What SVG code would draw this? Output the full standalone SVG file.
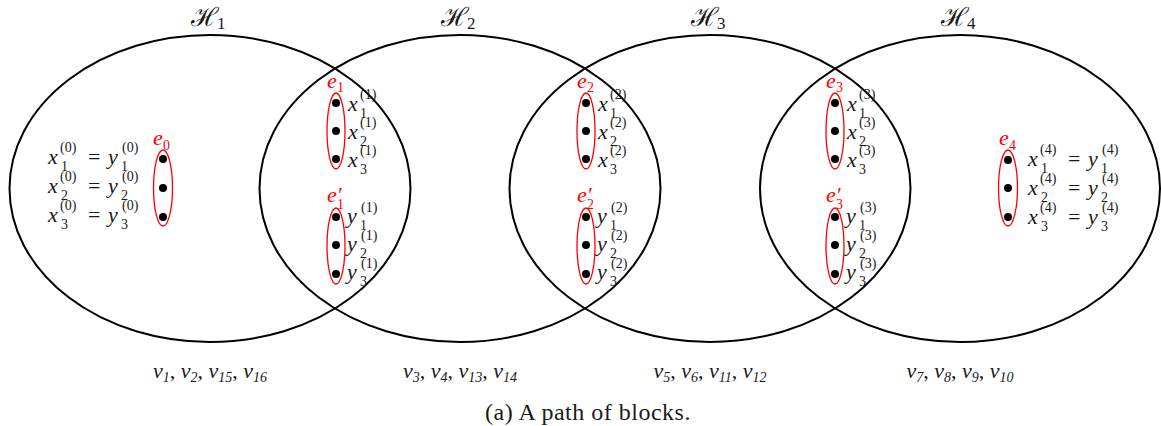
<svg xmlns="http://www.w3.org/2000/svg" width="1161" height="426" viewBox="0 0 1161 426">
<style>
.hyp{fill:none;stroke:#000;stroke-width:2}
.edge{fill:none;stroke:#ff0000;stroke-width:1.3}
.dot{fill:#000}
.m{font-family:"Liberation Serif","Times New Roman",serif;font-style:italic;font-size:22px;fill:#1a1a1a}
.s{font-family:"Liberation Serif","Times New Roman",serif;font-size:14px;fill:#1a1a1a}
.hs{font-family:"Liberation Serif","Times New Roman",serif;font-size:17px;fill:#1a1a1a}
.r{fill:#ff0000}
.op{font-family:"Liberation Serif","Times New Roman",serif;font-size:22px;fill:#1a1a1a}
.H{font-family:"DejaVu Serif",serif;font-size:26px;fill:#1a1a1a}
.v{font-family:"Liberation Serif","Times New Roman",serif;font-style:italic;font-size:22px;fill:#1a1a1a}
.cap{font-family:"Liberation Serif","Times New Roman",serif;font-size:24px;letter-spacing:0.5px;fill:#1a1a1a}
</style>
<rect width="1161" height="426" fill="#fff"/>

<g id="H1">
<ellipse class="hyp" cx="210" cy="188.5" rx="200.5" ry="153.5"/>
<text class="H" x="191" y="26">ℋ</text><text class="hs" x="217" y="29">1</text>
<text class="v" x="210" y="378" text-anchor="middle">v<tspan class="s" dy="4">1</tspan><tspan dy="-4" font-style="normal">, </tspan>v<tspan class="s" dy="4">2</tspan><tspan dy="-4" font-style="normal">, </tspan>v<tspan class="s" dy="4">15</tspan><tspan dy="-4" font-style="normal">, </tspan>v<tspan class="s" dy="4">16</tspan></text>
</g>
<g id="H2">
<ellipse class="hyp" cx="460" cy="188.5" rx="200.5" ry="153.5"/>
<text class="H" x="441" y="26">ℋ</text><text class="hs" x="467" y="29">2</text>
<text class="v" x="460" y="378" text-anchor="middle">v<tspan class="s" dy="4">3</tspan><tspan dy="-4" font-style="normal">, </tspan>v<tspan class="s" dy="4">4</tspan><tspan dy="-4" font-style="normal">, </tspan>v<tspan class="s" dy="4">13</tspan><tspan dy="-4" font-style="normal">, </tspan>v<tspan class="s" dy="4">14</tspan></text>
</g>
<g id="H3">
<ellipse class="hyp" cx="710" cy="188.5" rx="200.5" ry="153.5"/>
<text class="H" x="691" y="26">ℋ</text><text class="hs" x="717" y="29">3</text>
<text class="v" x="710" y="378" text-anchor="middle">v<tspan class="s" dy="4">5</tspan><tspan dy="-4" font-style="normal">, </tspan>v<tspan class="s" dy="4">6</tspan><tspan dy="-4" font-style="normal">, </tspan>v<tspan class="s" dy="4">11</tspan><tspan dy="-4" font-style="normal">, </tspan>v<tspan class="s" dy="4">12</tspan></text>
</g>
<g id="H4">
<ellipse class="hyp" cx="960" cy="188.5" rx="200" ry="153.5"/>
<text class="H" x="941" y="26">ℋ</text><text class="hs" x="967" y="29">4</text>
<text class="v" x="960" y="378" text-anchor="middle">v<tspan class="s" dy="4">7</tspan><tspan dy="-4" font-style="normal">, </tspan>v<tspan class="s" dy="4">8</tspan><tspan dy="-4" font-style="normal">, </tspan>v<tspan class="s" dy="4">9</tspan><tspan dy="-4" font-style="normal">, </tspan>v<tspan class="s" dy="4">10</tspan></text>
</g>

<g id="e0">
<ellipse class="edge" cx="163" cy="188" rx="9.5" ry="38"/>
<circle class="dot" cx="163" cy="159" r="4"/><circle class="dot" cx="163" cy="188" r="4"/><circle class="dot" cx="163" cy="217" r="4"/>
<text class="m r" x="153" y="145">e</text><text class="s r" x="163" y="150">0</text>
<text class="m" x="48" y="164">x</text><text class="s" x="60" y="152">(0)</text><text class="s" x="61" y="171">1</text>
<text class="op" x="88" y="164">=</text>
<text class="m" x="108" y="164">y</text><text class="s" x="122" y="152">(0)</text><text class="s" x="121" y="171">1</text>
<text class="m" x="48" y="193">x</text><text class="s" x="60" y="181">(0)</text><text class="s" x="61" y="200">2</text>
<text class="op" x="88" y="193">=</text>
<text class="m" x="108" y="193">y</text><text class="s" x="122" y="181">(0)</text><text class="s" x="121" y="200">2</text>
<text class="m" x="48" y="222">x</text><text class="s" x="60" y="210">(0)</text><text class="s" x="61" y="229">3</text>
<text class="op" x="88" y="222">=</text>
<text class="m" x="108" y="222">y</text><text class="s" x="122" y="210">(0)</text><text class="s" x="121" y="229">3</text>
</g>

<g id="e1">
<ellipse class="edge" cx="336" cy="131" rx="9" ry="38"/>
<circle class="dot" cx="336" cy="103" r="4"/><circle class="dot" cx="336" cy="131" r="4"/><circle class="dot" cx="336" cy="159" r="4"/>
<text class="m r" x="327" y="88">e</text><text class="s r" x="337" y="92">1</text>
<text class="m" x="348" y="111">x</text><text class="s" x="360" y="99">(1)</text><text class="s" x="360" y="118">1</text>
<text class="m" x="348" y="139">x</text><text class="s" x="360" y="127">(1)</text><text class="s" x="360" y="146">2</text>
<text class="m" x="348" y="167">x</text><text class="s" x="360" y="155">(1)</text><text class="s" x="360" y="174">3</text>
</g>
<g id="e1p">
<ellipse class="edge" cx="336" cy="246" rx="9" ry="38"/>
<circle class="dot" cx="336" cy="217" r="4"/><circle class="dot" cx="336" cy="245" r="4"/><circle class="dot" cx="336" cy="274" r="4"/>
<text class="m r" x="327" y="202">e′</text><text class="s r" x="337" y="209">1</text>
<text class="m" x="347" y="223">y</text><text class="s" x="361" y="212">(1)</text><text class="s" x="360" y="230">1</text>
<text class="m" x="347" y="251">y</text><text class="s" x="361" y="240">(1)</text><text class="s" x="360" y="258">2</text>
<text class="m" x="347" y="279">y</text><text class="s" x="361" y="268">(1)</text><text class="s" x="360" y="286">3</text>
</g>

<g id="e2">
<ellipse class="edge" cx="586" cy="131" rx="9" ry="38"/>
<circle class="dot" cx="586" cy="103" r="4"/><circle class="dot" cx="586" cy="131" r="4"/><circle class="dot" cx="586" cy="159" r="4"/>
<text class="m r" x="577" y="88">e</text><text class="s r" x="587" y="92">2</text>
<text class="m" x="598" y="111">x</text><text class="s" x="610" y="99">(2)</text><text class="s" x="610" y="118">1</text>
<text class="m" x="598" y="139">x</text><text class="s" x="610" y="127">(2)</text><text class="s" x="610" y="146">2</text>
<text class="m" x="598" y="167">x</text><text class="s" x="610" y="155">(2)</text><text class="s" x="610" y="174">3</text>
</g>
<g id="e2p">
<ellipse class="edge" cx="586" cy="246" rx="9" ry="38"/>
<circle class="dot" cx="586" cy="217" r="4"/><circle class="dot" cx="586" cy="245" r="4"/><circle class="dot" cx="586" cy="274" r="4"/>
<text class="m r" x="577" y="202">e′</text><text class="s r" x="587" y="209">2</text>
<text class="m" x="597" y="223">y</text><text class="s" x="611" y="212">(2)</text><text class="s" x="610" y="230">1</text>
<text class="m" x="597" y="251">y</text><text class="s" x="611" y="240">(2)</text><text class="s" x="610" y="258">2</text>
<text class="m" x="597" y="279">y</text><text class="s" x="611" y="268">(2)</text><text class="s" x="610" y="286">3</text>
</g>

<g id="e3">
<ellipse class="edge" cx="835" cy="131" rx="9" ry="38"/>
<circle class="dot" cx="835" cy="103" r="4"/><circle class="dot" cx="835" cy="131" r="4"/><circle class="dot" cx="835" cy="159" r="4"/>
<text class="m r" x="826" y="88">e</text><text class="s r" x="836" y="92">3</text>
<text class="m" x="847" y="111">x</text><text class="s" x="859" y="99">(3)</text><text class="s" x="859" y="118">1</text>
<text class="m" x="847" y="139">x</text><text class="s" x="859" y="127">(3)</text><text class="s" x="859" y="146">2</text>
<text class="m" x="847" y="167">x</text><text class="s" x="859" y="155">(3)</text><text class="s" x="859" y="174">3</text>
</g>
<g id="e3p">
<ellipse class="edge" cx="835" cy="246" rx="9" ry="38"/>
<circle class="dot" cx="835" cy="217" r="4"/><circle class="dot" cx="835" cy="245" r="4"/><circle class="dot" cx="835" cy="274" r="4"/>
<text class="m r" x="826" y="202">e′</text><text class="s r" x="836" y="209">3</text>
<text class="m" x="846" y="223">y</text><text class="s" x="860" y="212">(3)</text><text class="s" x="859" y="230">1</text>
<text class="m" x="846" y="251">y</text><text class="s" x="860" y="240">(3)</text><text class="s" x="859" y="258">2</text>
<text class="m" x="846" y="279">y</text><text class="s" x="860" y="268">(3)</text><text class="s" x="859" y="286">3</text>
</g>

<g id="e4">
<ellipse class="edge" cx="1008" cy="188" rx="9.5" ry="38"/>
<circle class="dot" cx="1008" cy="160" r="4"/><circle class="dot" cx="1008" cy="188" r="4"/><circle class="dot" cx="1008" cy="217" r="4"/>
<text class="m r" x="999" y="145">e</text><text class="s r" x="1009" y="150">4</text>
<text class="m" x="1028" y="166">x</text><text class="s" x="1040" y="154">(4)</text><text class="s" x="1041" y="173">1</text>
<text class="op" x="1068" y="166">=</text>
<text class="m" x="1088" y="166">y</text><text class="s" x="1102" y="154">(4)</text><text class="s" x="1101" y="173">1</text>
<text class="m" x="1028" y="195">x</text><text class="s" x="1040" y="183">(4)</text><text class="s" x="1041" y="202">2</text>
<text class="op" x="1068" y="195">=</text>
<text class="m" x="1088" y="195">y</text><text class="s" x="1102" y="183">(4)</text><text class="s" x="1101" y="202">2</text>
<text class="m" x="1028" y="224">x</text><text class="s" x="1040" y="212">(4)</text><text class="s" x="1041" y="231">3</text>
<text class="op" x="1068" y="224">=</text>
<text class="m" x="1088" y="224">y</text><text class="s" x="1102" y="212">(4)</text><text class="s" x="1101" y="231">3</text>
</g>

<g id="caption">
<text class="cap" x="588" y="420" text-anchor="middle">(a) A path of blocks.</text>
</g>
</svg>
